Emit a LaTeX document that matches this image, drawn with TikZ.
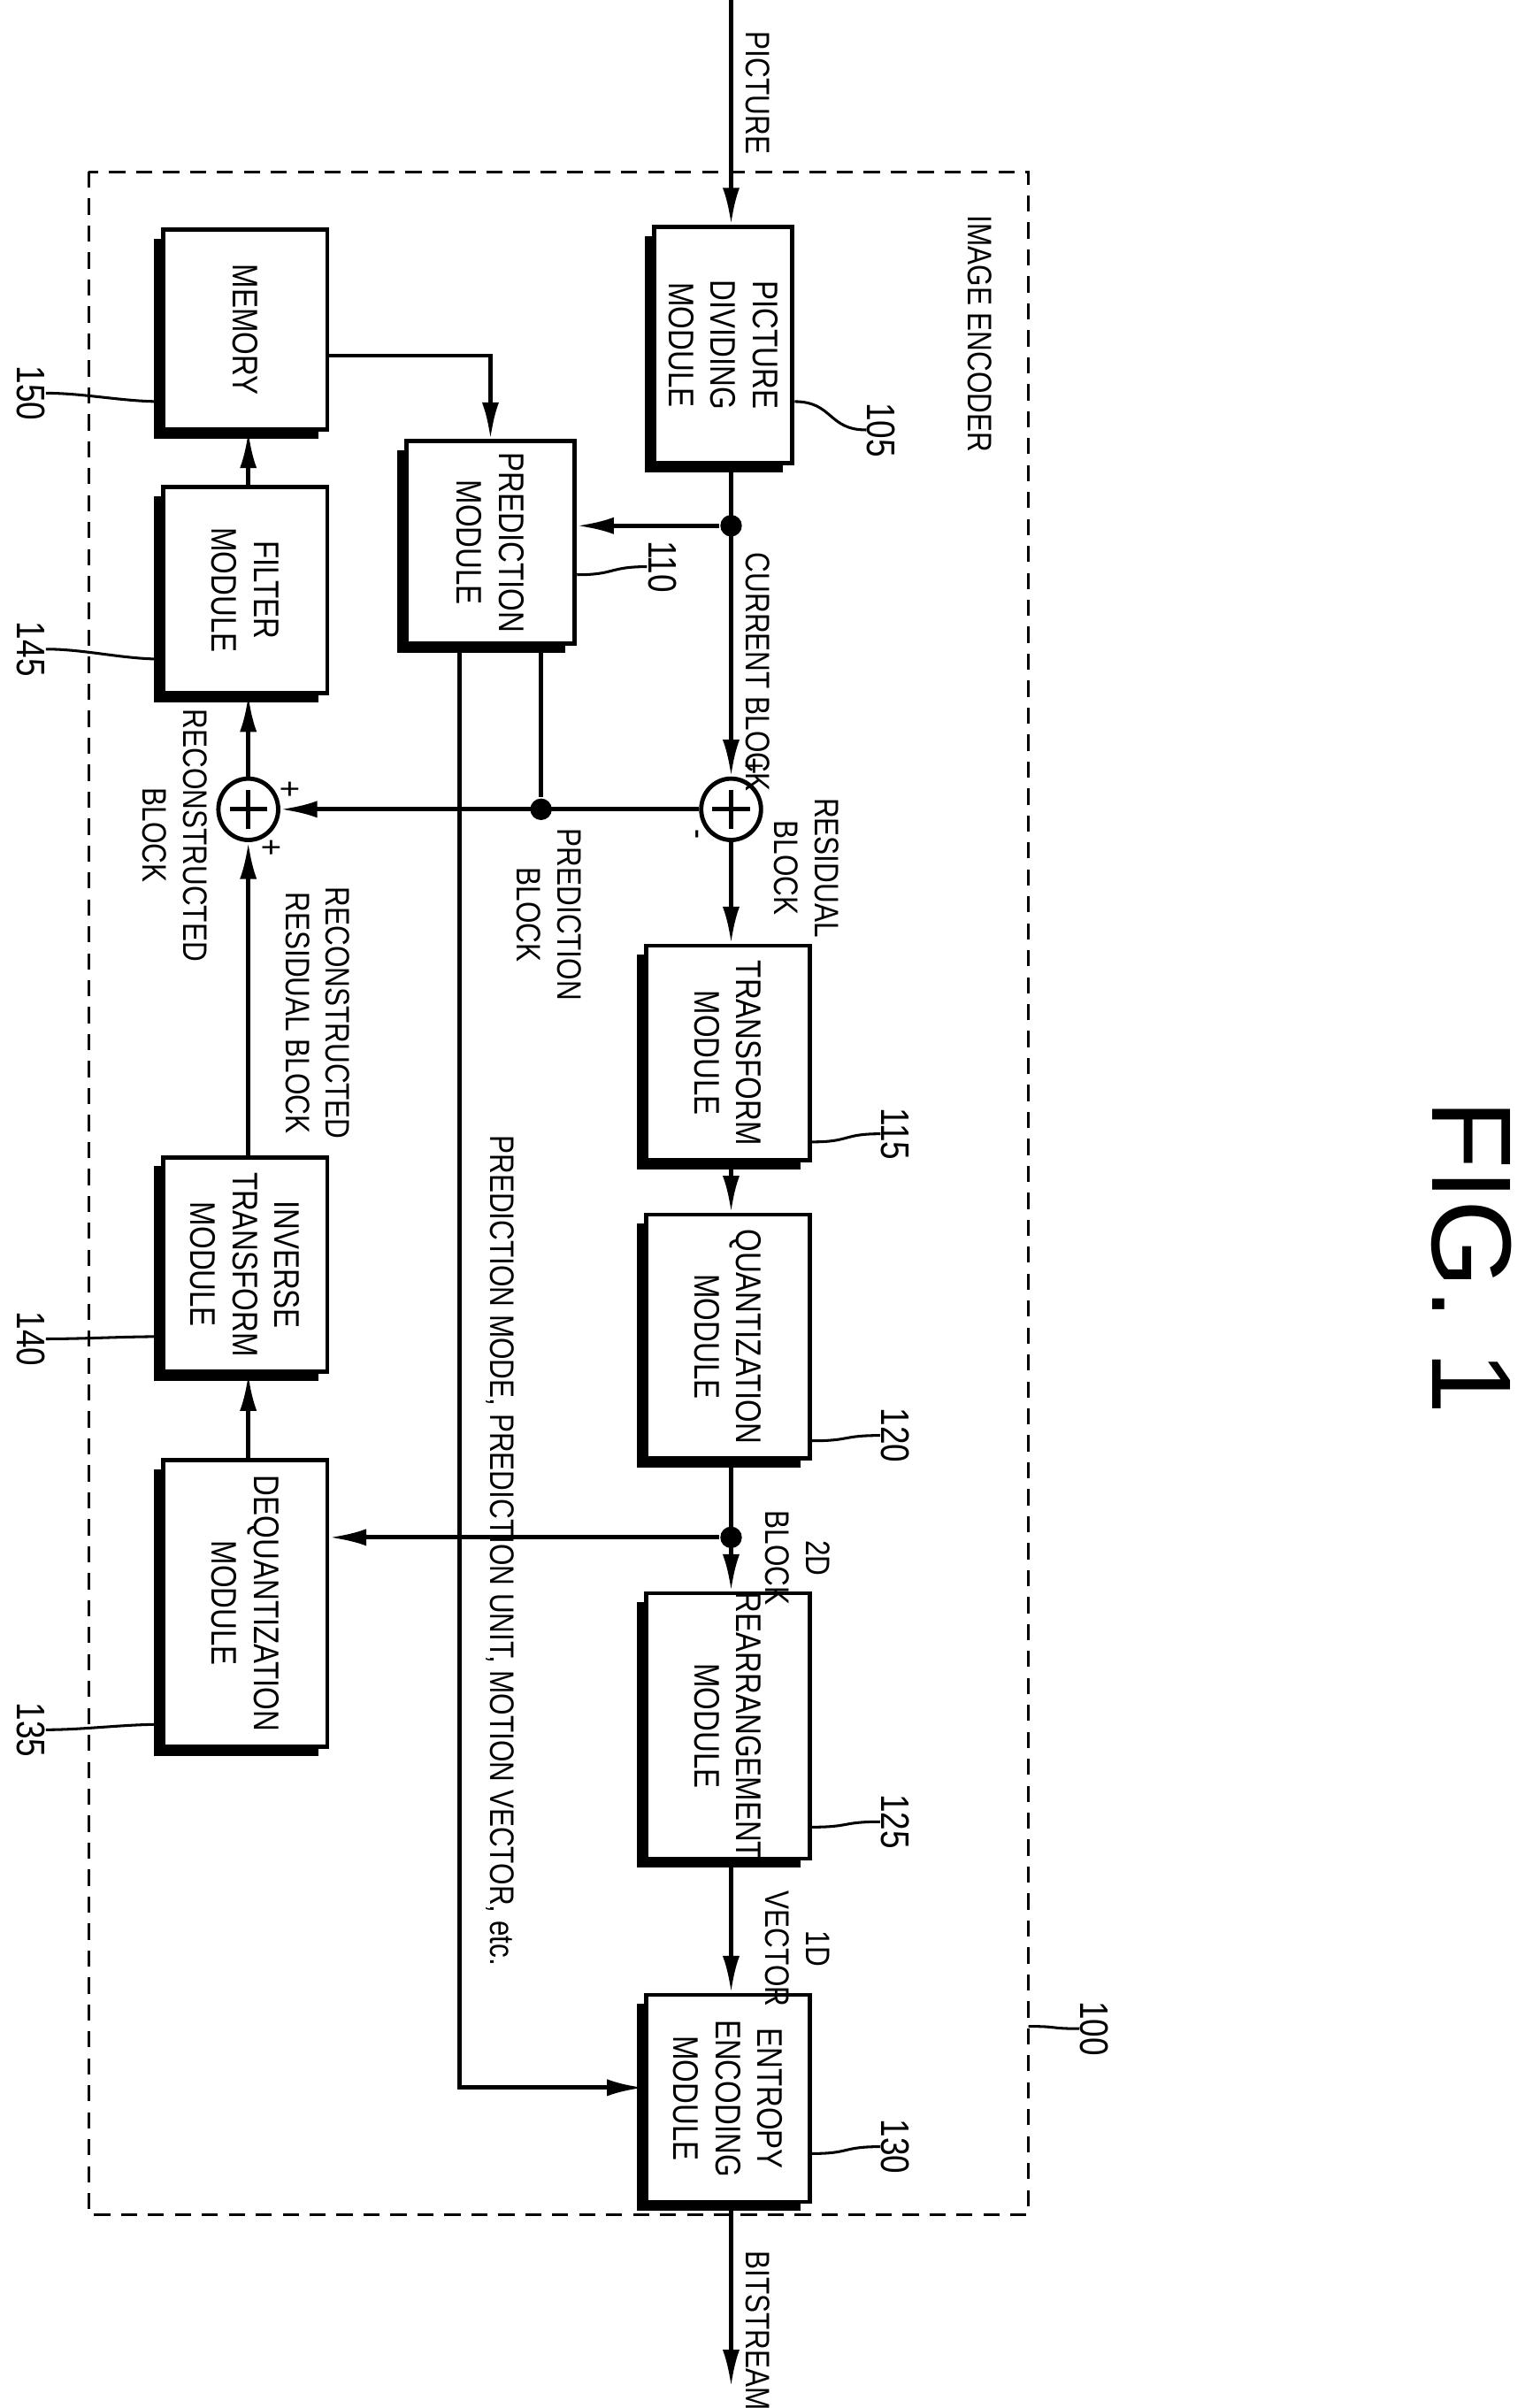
\documentclass[tikz,border=0pt]{standalone}
\usepackage{fontspec}
\setmainfont{Liberation Sans}
\newfontfamily\condfont[FakeStretch=0.82]{Liberation Sans}
\usetikzlibrary{positioning, shapes.geometric, shadows, arrows.meta}

\tikzset{
    blk/.style={draw, fill=white, line width=0.8pt, inner sep=0pt,
        drop shadow={shadow xshift=-0.06cm, shadow yshift=-0.06cm, opacity=1, fill=black}},
    lbl/.style={rotate=-90, font=\condfont\fontsize{6.6}{7.8}\selectfont, align=center, inner sep=0pt},
    tag/.style={lbl, anchor=north west, align=center, font=\condfont\fontsize{6.3}{7.5}\selectfont},
    num/.style={lbl, anchor=north west, font=\condfont\fontsize{7.4}{8.6}\selectfont},
    arr/.style={-{Latex[length=2.4mm,width=1.1mm]}, line width=0.8pt},
    ln/.style={line width=0.8pt},
    lead/.style={line width=0.5pt},
    sum/.style={draw, ellipse, line width=0.8pt, minimum width=0.39cm, minimum height=0.4cm, inner sep=0pt},
    dot/.style={circle, fill, inner sep=0pt, minimum size=4pt},
}

\begin{document}
\begin{tikzpicture}[x=0.01cm, y=-0.01cm]
    \useasboundingbox (0,0) rectangle (1000,1571);

    % encoder frame
    \draw [dash pattern=on 3pt off 2pt, line width=0.5pt] (58,112) rectangle (671,1445);
    \node [tag] (title) at (648,140) {IMAGE ENCODER};
    \node [lbl, font=\fontsize{21}{24}\selectfont] (fig) at (960,820) {FIG. 1};

    % blocks
    \node [blk, minimum width=0.9cm, minimum height=1.54cm] (pdm) at (472,225) {};
    \node [blk, minimum width=1.07cm, minimum height=1.30cm] (mem) at (160,215) {};
    \node [blk, minimum width=1.10cm, minimum height=1.32cm] (pred) at (320,354) {};
    \node [blk, minimum width=1.07cm, minimum height=1.34cm] (filt) at (160,385) {};
    \node [blk, minimum width=1.07cm, minimum height=1.40cm] (tra) at (475,687) {};
    \node [blk, minimum width=1.07cm, minimum height=1.59cm] (qua) at (475,872) {};
    \node [blk, minimum width=1.07cm, minimum height=1.73cm] (rea) at (475,1126) {};
    \node [blk, minimum width=1.07cm, minimum height=1.35cm] (ent) at (475,1369) {};
    \node [blk, minimum width=1.07cm, minimum height=1.40cm] (inv) at (160,825) {};
    \node [blk, minimum width=1.07cm, minimum height=1.87cm] (deq) at (160,1046) {};

    \node [lbl] at (pdm) {PICTURE\\DIVIDING\\MODULE};
    \node [lbl] at (mem) {MEMORY};
    \node [lbl] at (pred) {PREDICTION\\MODULE};
    \node [lbl] at (filt) {FILTER\\MODULE};
    \node [lbl] at (tra) {TRANSFORM\\MODULE};
    \node [lbl] at (qua) {QUANTIZATION\\MODULE};
    \node [lbl] at (rea) {REARRANGEMENT\\MODULE};
    \node [lbl] at (ent) {ENTROPY\\ENCODING\\MODULE};
    \node [lbl] at (inv) {INVERSE\\TRANSFORM\\MODULE};
    \node [lbl] at (deq) {DEQUANTIZATION\\MODULE};

    % adders
    \node [sum] (s1) at (477,528) {};
    \node [sum] (s2) at (162,528) {};
    \foreach \s in {s1, s2} {
        \draw [ln] ([yshift=-2.5pt]\s.north) -- ([yshift=2.5pt]\s.south);
        \draw [ln] ([xshift=2.5pt]\s.west) -- ([xshift=-2.5pt]\s.east);
    }
    \node [lbl] (p1) at (491,500) {+};
    \node [lbl] (m1) at (452,544) {-};
    \node [lbl] (p2) at (188,515) {+};
    \node [lbl] (p3) at (176,553) {+};

    % junctions
    \coordinate (in) at (477,0);
    \coordinate (out) at (477,1557);
    \node [dot] (j1) at (477,343) {};
    \node [dot] (j2) at (353,528) {};
    \node [dot] (j3) at (477,1003) {};

    % forward path
    \draw [arr] (in) -- (pdm.north -| in);
    \draw [arr] (pdm.south -| in) -- (s1.north);
    \draw [arr] (j1) -- (j1 -| pred.east);
    \draw [arr] (s1.south) -- (tra.north -| s1);
    \draw [arr] (tra.south -| s1) -- (qua.north -| s1);
    \draw [arr] (qua.south -| s1) -- (rea.north -| s1);
    \draw [arr] (rea.south -| s1) -- (ent.north -| s1);
    \draw [arr] (ent.south -| s1) -- (out);

    % prediction paths
    \draw [arr] (mem.east |- 0,232) -| (pred.north);
    \draw [ln] (pred.south -| j2) -- (j2);
    \draw [arr] (s1.west) -- (s2.east);
    \draw [arr] (pred.south -| 300,0) |- (ent.west |- 0,1362);

    % reconstruction loop
    \draw [arr] (j3) -- (j3 -| deq.east);
    \draw [arr] (deq.north -| s2) -- (inv.south -| s2);
    \draw [arr] (inv.north -| s2) -- (s2.south);
    \draw [arr] (s2.north) -- (filt.south -| s2);
    \draw [arr] (filt.north -| s2) -- (mem.south -| s2);

    % signal labels
    \node [tag] (t1) at (503,20) {PICTURE};
    \node [tag] (t2) at (503,360) {CURRENT BLOCK};
    \node [tag] (t3) at (548,520) {RESIDUAL\\BLOCK};
    \node [tag] (t4) at (380,540) {PREDICTION\\BLOCK};
    \node [tag] (t5) at (229,578) {RECONSTRUCTED\\RESIDUAL BLOCK};
    \node [tag] (t6) at (136,462) {RECONSTRUCTED\\BLOCK};
    \node [tag] (t7) at (336,740) {PREDICTION MODE, PREDICTION UNIT, MOTION VECTOR, etc.};
    \node [tag] (t8) at (542,985) {2D\\BLOCK};
    \node [tag] (t9) at (542,1233) {1D\\VECTOR};
    \node [tag] (t10) at (503,1468) {BITSTREAM};

    % reference numbers
    \node [num] (n100) at (724,1305) {100};
    \node [num] (n105) at (585,262) {105};
    \node [num] (n110) at (442,352) {110};
    \node [num] (n115) at (594,722) {115};
    \node [num] (n120) at (594,918) {120};
    \node [num] (n125) at (594,1170) {125};
    \node [num] (n130) at (594,1382) {130};
    \node [num] (n150) at (30,238) {150};
    \node [num] (n145) at (30,405) {145};
    \node [num] (n140) at (30,855) {140};
    \node [num] (n135) at (30,1110) {135};

    % leader lines
    \draw [lead] (671,1322) .. controls +(20,0) and +(-20,0) .. (n100.south);
    \draw [lead] (pdm.east |- 0,262) .. controls +(25,0) and +(-25,0) .. (n105.south);
    \draw [lead] (pred.east |- 0,375) .. controls +(25,0) and +(-25,0) .. (n110.south);
    \draw [lead] (tra.east |- 0,745) .. controls +(25,0) and +(-25,0) .. (n115.south);
    \draw [lead] (qua.east |- 0,940) .. controls +(25,0) and +(-25,0) .. (n120.south);
    \draw [lead] (rea.east |- 0,1192) .. controls +(25,0) and +(-25,0) .. (n125.south);
    \draw [lead] (ent.east |- 0,1405) .. controls +(25,0) and +(-25,0) .. (n130.south);
    \draw [lead] (mem.west |- 0,262) .. controls +(-25,0) and +(25,0) .. (n150.north);
    \draw [lead] (filt.west |- 0,430) .. controls +(-25,0) and +(25,0) .. (n145.north);
    \draw [lead] (inv.west |- 0,872) .. controls +(-25,0) and +(25,0) .. (n140.north);
    \draw [lead] (deq.west |- 0,1125) .. controls +(-25,0) and +(25,0) .. (n135.north);
\end{tikzpicture}
\end{document}
